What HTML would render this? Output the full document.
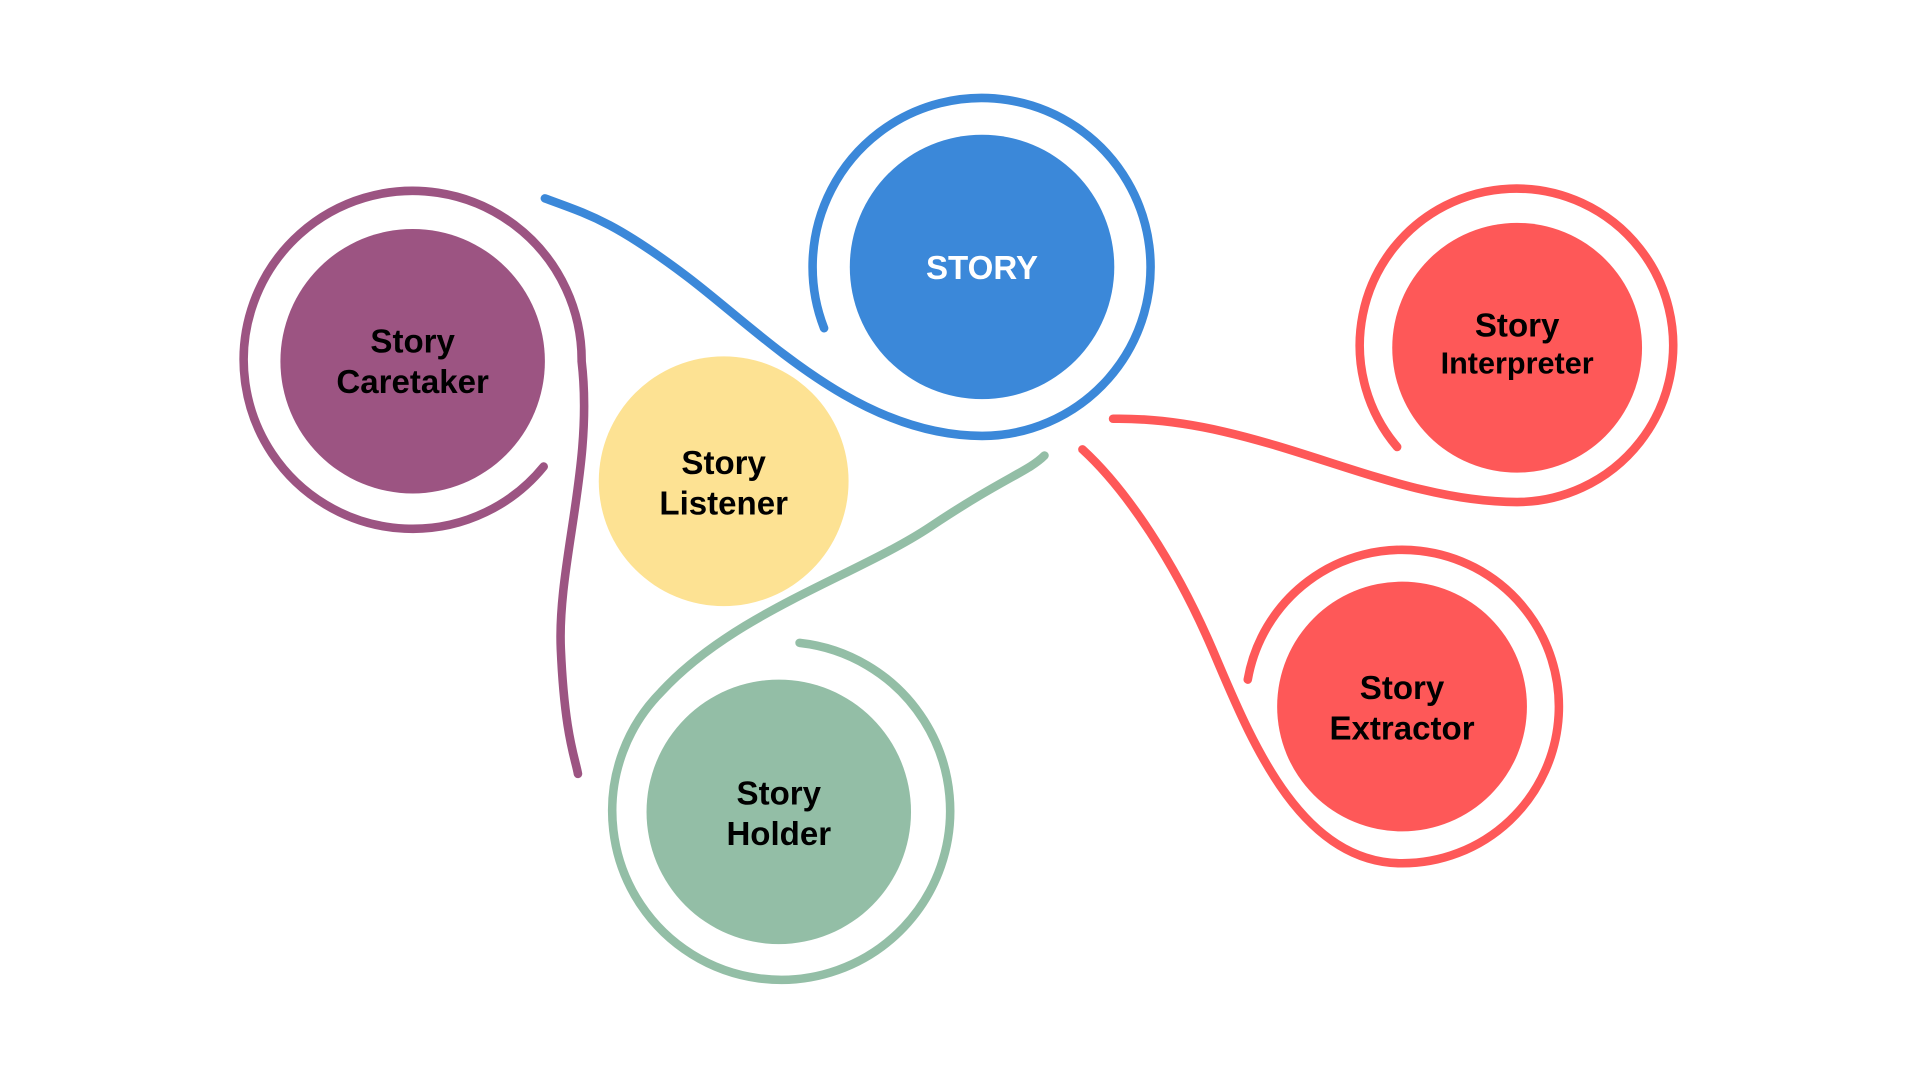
<!DOCTYPE html>
<html><head><meta charset="utf-8"><style>
html,body{margin:0;padding:0;background:#fff;width:1920px;height:1080px;overflow:hidden}
svg{display:block}
text{font-family:"Liberation Sans",sans-serif;font-weight:700;font-size:27px;text-anchor:middle}
</style></head><body>
<svg width="1920" height="1080" viewBox="0 0 1568 882" xmlns="http://www.w3.org/2000/svg">
<g fill="none" stroke-width="7" stroke-linecap="round">
<path stroke="#3b88d9" d="M673,268 A138,138 0 1 1 802,356 C700,356 620,270 560,225 S480,175 445,162"/>
<path stroke="#9c5482" d="M444,381 A138,138 0 1 1 475,295 C485,380 455,460 458,530 S470,620 472,632"/>
<path stroke="#93bea6" d="M653,525 A138,138 0 1 1 540,565 C600,500 700,470 760,430 S840,385 853,372"/>
<path stroke="#fe5858" d="M1141,365 A128,128 0 1 1 1239,410 C1130,410 1030,340 909,342"/>
<path stroke="#fe5858" d="M1019,555 A128,128 0 1 1 1145,705 C1060,705 1020,600 990,530 S920,400 884,367"/>
</g>
<circle cx="802" cy="218" r="108" fill="#3b88d9"/>
<circle cx="337" cy="295" r="108" fill="#9c5482"/>
<circle cx="591" cy="393" r="102" fill="#fde293"/>
<circle cx="636" cy="663" r="108" fill="#93bea6"/>
<circle cx="1239" cy="284" r="102" fill="#fe5858"/>
<circle cx="1145" cy="577" r="102" fill="#fe5858"/>
<text x="802" y="228" fill="#fff">STORY</text>
<text x="337" y="288">Story</text><text x="337" y="321">Caretaker</text>
<text x="591" y="387">Story</text><text x="591" y="420">Listener</text>
<text x="636" y="657">Story</text><text x="636" y="690">Holder</text>
<text x="1239" y="275" font-size="25">Story</text><text x="1239" y="305" style="font-size:25px">Interpreter</text>
<text x="1145" y="571">Story</text><text x="1145" y="604">Extractor</text>
</svg>
</body></html>
